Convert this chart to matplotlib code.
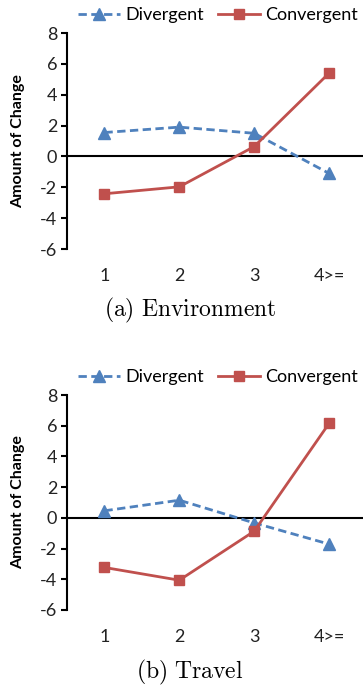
import matplotlib.pyplot as plt

# values
categories = ["1", "2", "3", "4>="]
env_divergent = [1.55, 1.9, 1.5, -1.1]
env_convergent = [-2.42, -1.97, 0.64, 5.4]
travel_divergent = [0.46, 1.15, -0.33, -1.71]
travel_convergent = [-3.23, -4.06, -0.87, 6.15]
captions = ["(a) Environment", "(b) Travel"]

BLUE = "#4F81BD"
RED = "#C0504D"

plt.rcParams['font.family'] = ['Lato', 'DejaVu Sans']
plt.rcParams['mathtext.fontset'] = 'cm'
plt.rcParams['axes.unicode_minus'] = False

W, H = 363, 688
fig = plt.figure(figsize=(W / 100, H / 100), dpi=100)


def draw_panel(top_px, bottom_px, div, conv, caption, legend_px, caption_px):
    left_px, right_px = 67, 366.5
    ax = fig.add_axes([left_px / W, 1 - bottom_px / H,
                       (right_px - left_px) / W, (bottom_px - top_px) / H])
    xs = range(1, len(categories) + 1)
    ax.plot(xs, div, color=BLUE, linestyle=(0, (3, 1.6)), linewidth=2,
            marker='^', markersize=8, label="Divergent", clip_on=False)
    ax.plot(xs, conv, color=RED, linestyle='-', linewidth=2,
            marker='s', markersize=6.5, label="Convergent", clip_on=False)
    ax.axhline(0, color='black', linewidth=1.5, zorder=1)

    ax.set_xlim(0.5, 4.5)
    ax.set_ylim(-6, 8)
    ax.set_yticks(range(-6, 9, 2))
    ax.set_xticks(list(xs))
    ax.set_xticklabels(categories)
    for s in ['top', 'right', 'bottom']:
        ax.spines[s].set_visible(False)
    ax.spines['left'].set_linewidth(1.5)
    ax.tick_params(axis='y', direction='out', length=4, width=1.5, pad=3,
                   labelsize=13, colors='black')
    ax.tick_params(axis='x', length=0, pad=14, labelsize=13)
    for lab in ax.get_xticklabels() + ax.get_yticklabels():
        lab.set_color('#222222')
    ax.set_ylabel("Amount of Change", fontsize=11.5, fontweight='bold')
    ax.yaxis.set_label_coords(-0.14, 0.5)
    ax.patch.set_alpha(0)

    ax.legend(loc='center', ncol=2, frameon=False, fontsize=13,
              bbox_to_anchor=(218 / W, 1 - legend_px / H),
              bbox_transform=fig.transFigure,
              handlelength=2.3, handletextpad=0.3, columnspacing=0.8)

    fig.text(190 / W, 1 - caption_px / H, r"$\mathrm{" + caption.replace(" ", r"\ ") + "}$",
             fontsize=17, ha='center', va='center')
    return ax


draw_panel(33, 249, env_divergent, env_convergent, captions[0], 15, 310)
draw_panel(395, 610, travel_divergent, travel_convergent, captions[1], 377, 672)

fig.savefig("out.png", dpi=100)
